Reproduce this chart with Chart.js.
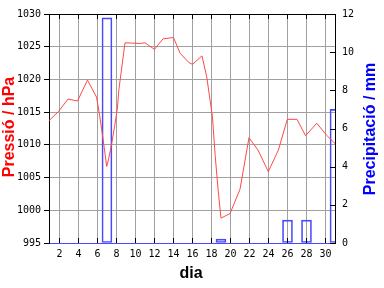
<!DOCTYPE html>
<html>
<head>
<meta charset="utf-8">
<script src="https://cdn.jsdelivr.net/npm/chart.js@4"></script>
<style>
  html, body { margin: 0; padding: 0; background: #fff; }
  canvas { display: block; }
</style>
</head>
<body>
<canvas id="chart" width="384" height="288"></canvas>
<script>
// pressure readings (day of month, hPa)
const pressureDays = [0.9, 1.9, 2.9, 3.9, 4.95, 5.9, 6.2, 6.45, 6.7, 6.97, 7.15, 7.5, 7.8, 8.1, 8.25, 8.9,
  10.5, 11.0, 12.0, 12.9, 14.0, 14.7, 15.6, 16.0, 17.0, 17.5, 18.1, 18.4, 18.7, 19.0, 19.95, 21.0,
  21.95, 22.9, 23.98, 25.04, 25.98, 27.0, 27.9, 29.08, 30.1, 31.0];
const pressureValues = [1013.7, 1015.1, 1017.0, 1016.7, 1019.9, 1017.3, 1014.8, 1012.3, 1009.7, 1006.7, 1007.7, 1010.2, 1012.8, 1015.6, 1018.4, 1025.6,
  1025.5, 1025.6, 1024.6, 1026.2, 1026.4, 1024.0, 1022.6, 1022.3, 1023.6, 1020.4, 1014.3, 1008.2, 1003.1, 998.8, 999.5, 1003.2,
  1011.1, 1009.2, 1005.9, 1009.2, 1013.9, 1013.9, 1011.4, 1013.3, 1011.5, 1010.2];

// precipitation (day, mm)
const rainDays = [7, 19, 26, 28, 31];
const rainValues = [11.8, 0.2, 1.2, 1.2, 7.0];

const dayTicks = [2, 4, 6, 8, 10, 12, 14, 16, 18, 20, 22, 24, 26, 28, 30];
const pressureTicks = [995, 1000, 1005, 1010, 1015, 1020, 1025, 1030];
const rainTicks = [0, 2, 4, 6, 8, 10, 12];

const tickFont = { family: 'DejaVu Sans Mono', size: 10 };
const gridGray = '#a0a0a0';
const lineRed = '#ff4848';
const barBlue = '#4848ff';
const plain = v => String(v);

// frame, inward tick marks and the axis titles
const frame = {
  id: 'frame',
  afterDatasetsDraw(chart) {
    const { ctx, chartArea: a, scales } = chart;
    ctx.save();
    ctx.strokeStyle = '#000';
    ctx.lineWidth = 1;
    ctx.beginPath();
    ctx.moveTo(a.left, a.top + 0.5);
    ctx.lineTo(a.right + 0.5, a.top + 0.5);
    dayTicks.forEach(d => {
      const x = Math.round(scales.x.getPixelForValue(d)) + 0.5;
      ctx.moveTo(x, a.top);
      ctx.lineTo(x, a.top + 5);
      ctx.moveTo(x, a.bottom);
      ctx.lineTo(x, a.bottom - 5);
    });
    rainTicks.forEach(v => {
      const y = Math.round(scales.yR.getPixelForValue(v)) + 0.5;
      ctx.moveTo(a.right, y);
      ctx.lineTo(a.right - 5, y);
    });
    ctx.stroke();

    ctx.font = 'bold 16px "Liberation Sans"';
    ctx.textAlign = 'center';
    ctx.textBaseline = 'alphabetic';

    ctx.fillStyle = '#000';
    ctx.fillText('dia', 191, 278);

    ctx.save();
    ctx.translate(14, 127);
    ctx.rotate(-Math.PI / 2);
    ctx.fillStyle = '#ff0000';
    ctx.fillText('Pressió / hPa', 0, 0);
    ctx.restore();

    ctx.save();
    ctx.translate(375, 129);
    ctx.rotate(-Math.PI / 2);
    ctx.fillStyle = '#0000ff';
    ctx.fillText('Precipitació / mm', 0, 0);
    ctx.restore();

    ctx.restore();
  }
};

new Chart(document.getElementById('chart'), {
  type: 'bar',
  data: {
    datasets: [{
      type: 'line',
      data: pressureDays.map((d, i) => ({ x: d, y: pressureValues[i] })),
      xAxisID: 'x',
      yAxisID: 'yP',
      borderColor: lineRed,
      borderWidth: 1,
      pointRadius: 0,
      tension: 0,
      order: 0,
      clip: 0
    }, {
      type: 'bar',
      data: rainDays.map((d, i) => ({ x: d, y: rainValues[i] })),
      xAxisID: 'x',
      yAxisID: 'yR',
      borderColor: barBlue,
      borderWidth: 1,
      backgroundColor: 'rgba(0,0,0,0)',
      borderSkipped: false,
      barThickness: 10,
      order: 1,
      clip: 0
    }]
  },
  options: {
    responsive: false,
    animation: false,
    devicePixelRatio: 1,
    layout: { padding: { top: 14, left: 0, right: 0, bottom: 0 } },
    plugins: { legend: { display: false }, tooltip: { enabled: false } },
    scales: {
      x: {
        type: 'linear',
        min: 0.9,
        max: 31,
        offset: false,
        afterBuildTicks: s => { s.ticks = dayTicks.map(v => ({ value: v })); },
        afterFit: s => { s.height = 45; },
        grid: { color: gridGray, drawTicks: false, offset: false },
        border: { color: barBlue },
        ticks: { font: tickFont, color: '#000', padding: 5, maxRotation: 0, autoSkip: false, callback: plain }
      },
      yP: {
        position: 'left',
        min: 995,
        max: 1030,
        afterBuildTicks: s => { s.ticks = pressureTicks.map(v => ({ value: v })); },
        afterFit: s => { s.width = 49; },
        grid: { color: gridGray, tickColor: '#000', tickLength: 5 },
        border: { color: '#000' },
        ticks: { font: tickFont, color: '#000', padding: 3, autoSkip: false, callback: plain }
      },
      yR: {
        position: 'right',
        min: 0,
        max: 12,
        afterBuildTicks: s => { s.ticks = rainTicks.map(v => ({ value: v })); },
        afterFit: s => { s.width = 49; },
        grid: { drawOnChartArea: false, drawTicks: false },
        border: { color: '#000' },
        ticks: { font: tickFont, color: '#000', padding: 7, autoSkip: false, callback: plain }
      }
    }
  },
  plugins: [frame]
});
</script>
</body>
</html>
